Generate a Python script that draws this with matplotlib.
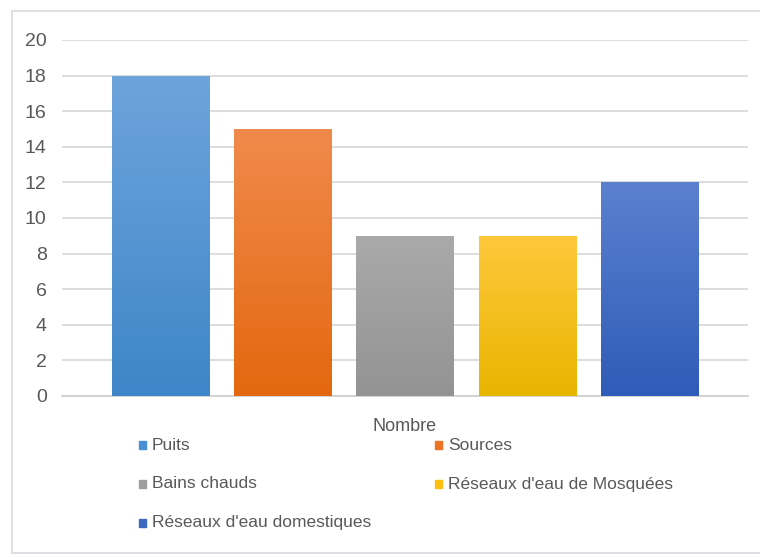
import matplotlib
matplotlib.use("Agg")
import matplotlib.pyplot as plt
import numpy as np
from matplotlib import font_manager as fm
from matplotlib.colors import LinearSegmentedColormap
from matplotlib.patches import Rectangle
from matplotlib.lines import Line2D

categories = ["Puits", "Sources", "Bains chauds", "Réseaux d'eau de Mosquées", "Réseaux d'eau domestiques"]
values = [18, 15, 9, 9, 12]
top_colors = ["#6ea4dc", "#f08a4c", "#aaaaaa", "#ffc83c", "#5b80cf"]
bottom_colors = ["#3e86c8", "#e4680f", "#939393", "#e8b500", "#2f5cb8"]
legend_colors = ["#4a90d2", "#ec7424", "#9e9e9e", "#fbbf10", "#3d68c2"]
group_label = "Nombre"
yticks = [0, 2, 4, 6, 8, 10, 12, 14, 16, 18, 20]

names = {f.name for f in fm.fontManager.ttflist}
fam = "Liberation Sans Narrow" if "Liberation Sans Narrow" in names else "Liberation Sans"
plt.rcParams["font.family"] = [fam, "DejaVu Sans"]
txt = "#595959"

fig = plt.figure(figsize=(7.6, 5.57), dpi=100)
bc_ = "#dcdce4"
def fx(p): return p / 760
def fy(p): return 1 - p / 557
fig.lines.append(Line2D([fx(12), fx(760)], [fy(11), fy(11)], transform=fig.transFigure, color=bc_, lw=1.3))
fig.lines.append(Line2D([fx(12), fx(12)], [fy(11), fy(553)], transform=fig.transFigure, color=bc_, lw=1.3))
fig.lines.append(Line2D([fx(12), fx(760)], [fy(553), fy(553)], transform=fig.transFigure, color=bc_, lw=1.3))

ax = fig.add_axes([fx(62), fy(396), (748 - 62) / 760, (396 - 40) / 557])

x = np.arange(len(categories))
bars = ax.bar(x, values, width=0.795, color="none", zorder=3)
grad = np.linspace(1, 0, 256).reshape(-1, 1)
for b, tc, bc in zip(bars, top_colors, bottom_colors):
    cmap = LinearSegmentedColormap.from_list("g", [bc, tc])
    x0, y0 = b.get_x(), b.get_y()
    w, h = b.get_width(), b.get_height()
    im = ax.imshow(grad, cmap=cmap, aspect="auto", extent=[x0, x0 + w, y0, y0 + h], zorder=3, origin="upper")
    im.set_clip_path(b)

ax.set_xlim(-0.81, 4.81)
ax.set_ylim(0, 20)
ax.set_yticks(yticks)
ax.set_xticks([2])
ax.set_xticklabels([group_label])
ax.tick_params(length=0, colors=txt)
ax.tick_params(axis="y", pad=11, labelsize=14)
ax.tick_params(axis="x", pad=16, labelsize=13)
ax.yaxis.grid(True, color="#dadada", lw=1.3, zorder=0)
for s in ["top", "right", "left"]:
    ax.spines[s].set_visible(False)
ax.spines["bottom"].set_color("#d0d0d0")
ax.spines["bottom"].set_linewidth(1.3)
ax.set_axisbelow(True)

for i, (name, c) in enumerate(zip(categories, legend_colors)):
    col, row = i % 2, i // 2
    px = 139 + col * 296
    py = 445 + row * 39
    fig.patches.append(Rectangle((fx(px), fy(py + 4)), 7 / 760, 8 / 557,
                                 transform=fig.transFigure, color=c))
    fig.text(fx(px + 13), fy(py), name, color=txt, fontsize=12.5, va="center", ha="left")

fig.savefig("out.png", dpi=100)
